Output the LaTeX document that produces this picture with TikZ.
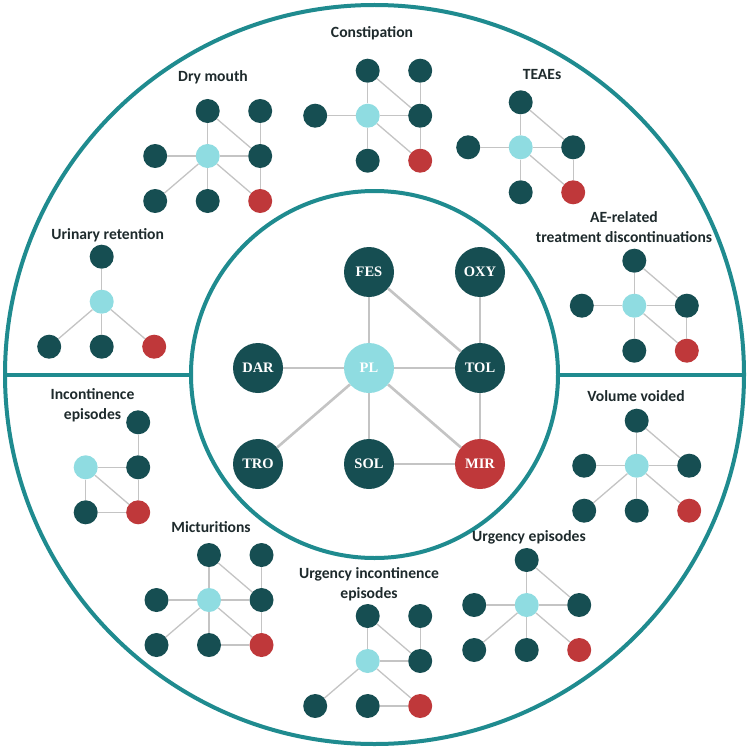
\documentclass[tikz,border=0pt]{standalone}
\usepackage{fontspec}
\newfontfamily\labfont{Carlito}
\newfontfamily\nodefont{Liberation Serif}
\definecolor{dk}{HTML}{164E52}
\definecolor{cy}{HTML}{8FDCE1}
\definecolor{rd}{HTML}{BF383A}
\definecolor{ring}{HTML}{1F8B8F}
\definecolor{edg}{HTML}{C4C4C4}
\definecolor{txt}{HTML}{1E2A2C}
\tikzset{
  base/.style={circle, minimum size=24pt, inner sep=0pt, draw=none},
  pFES/.style={base, fill=dk, at={(0,-1)}},
  pOXY/.style={base, fill=dk, at={(1,-1)}},
  pDAR/.style={base, fill=dk, at={(-1,0)}},
  pPL/.style={base, fill=cy, at={(0,0)}},
  pTOL/.style={base, fill=dk, at={(1,0)}},
  pTRO/.style={base, fill=dk, at={(-1,1)}},
  pSOL/.style={base, fill=dk, at={(0,1)}},
  pMIR/.style={base, fill=rd, at={(1,1)}},
  sedge/.style={draw=edg, line width=1.3pt},
  bedge/.style={draw=edg, line width=2.6pt},
  big/.style={circle, minimum size=50pt, inner sep=0pt, text=white, font=\nodefont\bfseries\fontsize{14.5}{16}\selectfont},
  lab/.style={font=\labfont\bfseries\fontsize{15.6}{18.5}\selectfont, text=txt, align=center, inner sep=0pt},
  ringline/.style={draw=ring, line width=4pt},
}
\newcommand\net[5]{%
  \begin{scope}[shift={(#2,#3)}, x=52.5pt, y=-45pt]
    \foreach \n in {#4}{\node[p\n] (#1\n) {};}
    \foreach \a/\b in {#5}{\draw[sedge] (#1\a) -- (#1\b);}
  \end{scope}}
\begin{document}
\begin{tikzpicture}[x=1pt, y=-1pt]
\path[fill=white, use as bounding box] (0,0) rectangle (749,749);
% rings
\coordinate (C) at (374.5,374.5);
\draw[ringline] (C) circle[radius=369.5];
\draw[ringline] (C) circle[radius=183.5];
\coordinate (L1) at (5,375);
\coordinate (L2) at (191,375);
\coordinate (R1) at (558,375);
\coordinate (R2) at (744,375);
\draw[ringline] (L1) -- (L2);
\draw[ringline] (R1) -- (R2);
% central network
\node[big, fill=dk] (FES) at (369,272) {FES};
\node[big, fill=dk] (OXY) at (480,272) {OXY};
\node[big, fill=dk] (DAR) at (258,368) {DAR};
\node[big, fill=cy] (PL) at (369,368) {PL};
\node[big, fill=dk] (TOL) at (480,368) {TOL};
\node[big, fill=dk] (TRO) at (258,464) {TRO};
\node[big, fill=dk] (SOL) at (369,464) {SOL};
\node[big, fill=rd] (MIR) at (480,464) {MIR};
\foreach \a/\b in {FES/PL, FES/TOL, OXY/TOL, DAR/PL, PL/TOL, PL/TRO, PL/SOL, PL/MIR, TOL/MIR, SOL/MIR}
  \draw[bedge] (\a) -- (\b);
% small networks
\node[lab] (t1) at (372,33) {Constipation};
\net{c}{367.7}{115.7}{FES,OXY,DAR,PL,TOL,SOL,MIR}{FES/PL,FES/TOL,OXY/TOL,DAR/PL,PL/TOL,PL/SOL,PL/MIR,TOL/MIR}
\node[lab] (t2) at (213,77) {Dry mouth};
\net{d}{207.7}{156}{FES,OXY,DAR,PL,TOL,TRO,SOL,MIR}{FES/PL,FES/TOL,OXY/TOL,DAR/PL,PL/TOL,PL/TRO,PL/SOL,PL/MIR,TOL/MIR}
\node[lab] (t3) at (542,74) {TEAEs};
\net{e}{520.7}{147.3}{FES,DAR,PL,TOL,SOL,MIR}{FES/PL,FES/TOL,DAR/PL,PL/TOL,PL/SOL,PL/MIR,TOL/MIR}
\node[lab] (t4) at (624,227) {AE-related\\[1pt]treatment discontinuations};
\net{a}{634.3}{305.7}{FES,DAR,PL,TOL,SOL,MIR}{FES/PL,FES/TOL,DAR/PL,PL/TOL,PL/SOL,PL/MIR,TOL/MIR}
\node[lab] (t5) at (107.7,235) {Urinary retention};
\net{u}{101.7}{301.7}{FES,PL,TRO,SOL,MIR}{FES/PL,PL/TRO,PL/SOL,PL/MIR}
\node[lab] (t6) at (92.5,405) {Incontinence\\[1pt]episodes};
\net{i}{85.7}{467.3}{OXY,PL,TOL,SOL,MIR}{OXY/TOL,PL/TOL,PL/SOL,PL/MIR,TOL/MIR,SOL/MIR}
\node[lab] (t7) at (211,527) {Micturitions};
\net{m}{209}{600}{FES,OXY,DAR,PL,TOL,TRO,SOL,MIR}{FES/PL,FES/TOL,OXY/TOL,DAR/PL,PL/TOL,PL/TRO,PL/SOL,PL/MIR,TOL/MIR,SOL/MIR}
\node[lab] (t8) at (369,584) {Urgency incontinence\\[1pt]episodes};
\net{g}{367.7}{661}{FES,OXY,PL,TOL,TRO,SOL,MIR}{FES/PL,FES/TOL,OXY/TOL,PL/TOL,PL/TRO,PL/MIR,SOL/MIR}
\node[lab] (t9) at (529,537) {Urgency episodes};
\net{r}{526.7}{605}{FES,DAR,PL,TOL,TRO,SOL,MIR}{FES/PL,FES/TOL,DAR/PL,PL/TOL,PL/TRO,PL/SOL,PL/MIR}
\node[lab] (t10) at (636,396) {Volume voided};
\net{v}{636.7}{465.7}{FES,DAR,PL,TOL,TRO,SOL,MIR}{FES/PL,FES/TOL,DAR/PL,PL/TOL,PL/TRO,PL/SOL,PL/MIR}
\end{tikzpicture}
\end{document}
